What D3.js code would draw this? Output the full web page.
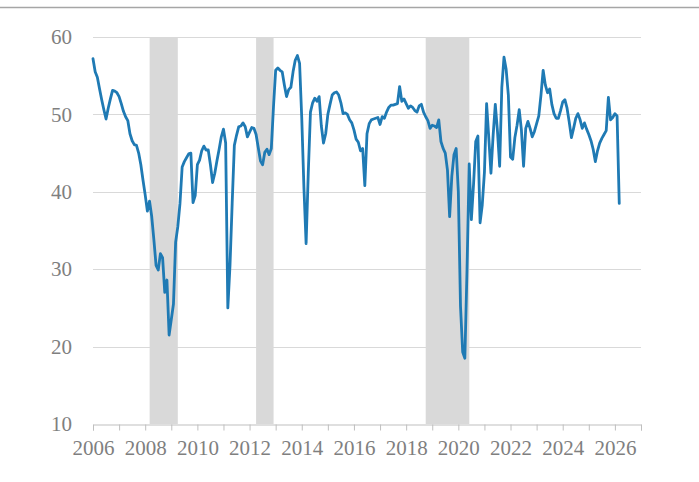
<!DOCTYPE html>
<html>
<head>
<meta charset="utf-8">
<script src="https://cdn.jsdelivr.net/npm/d3@7"></script>
<style>
  html, body { margin: 0; padding: 0; background: #ffffff; }
  svg { display: block; }
</style>
</head>
<body>
<svg id="chart" width="699" height="482"></svg>
<script>
// Monthly diffusion index, Jan 2006 onward
const startYear = 2006;
const values = [
  57.2, 55.5, 54.8, 53.3, 51.9, 50.6, 49.4, 50.8, 52.0, 53.1, 53.0, 52.8,
  52.3, 51.4, 50.4, 49.7, 49.2, 47.5, 46.6, 46.1, 46.0, 45.0, 43.5, 41.5,
  39.6, 37.5, 38.8, 36.8, 33.8, 30.5, 29.9, 32.0, 31.5, 27.0, 28.6, 21.5,
  23.5, 25.5, 33.5, 35.5, 38.5, 43.2, 43.9, 44.4, 44.9, 45.0, 38.6, 39.5,
  43.5, 44.1, 45.3, 45.9, 45.4, 45.4, 43.5, 41.2, 42.4, 44.0, 45.5, 47.1,
  48.1, 46.3, 25.0, 30.5, 38.5, 46.0, 47.3, 48.4, 48.5, 48.9, 48.4, 47.1,
  47.7, 48.3, 48.2, 47.4, 45.7, 44.0, 43.5, 45.1, 45.5, 44.8, 45.6, 51.0,
  55.7, 56.0, 55.7, 55.5, 53.8, 52.3, 53.2, 53.5, 55.5, 57.0, 57.6, 56.6,
  49.5, 40.5, 33.3, 42.5, 50.3, 51.5, 52.1, 51.7, 52.3, 48.5, 46.3, 47.5,
  50.0, 51.3, 52.5, 52.8, 52.9, 52.5, 51.5, 50.1, 50.2, 50.0, 49.3, 48.9,
  48.0, 46.8, 46.4, 45.3, 45.6, 40.8, 47.5, 48.8, 49.3, 49.4, 49.5, 49.6,
  48.7, 49.7, 49.5, 50.3, 50.9, 51.2, 51.2, 51.3, 51.4, 53.6, 51.7, 52.0,
  51.4, 50.8, 51.1, 50.9, 50.5, 50.3, 51.1, 51.3, 50.3, 49.7, 49.2, 48.2,
  48.6, 48.5, 48.3, 49.3, 46.5, 45.6, 45.0, 42.8, 36.8, 42.0, 44.8, 45.6,
  40.0, 25.2, 19.3, 18.5, 30.0, 43.6, 36.4, 41.0, 46.5, 47.2, 36.0, 38.3,
  42.5, 51.4, 47.0, 42.4, 47.3, 51.3, 47.8, 43.3, 53.5, 57.4, 55.8, 52.5,
  44.5, 44.2, 47.0, 48.6, 50.6, 48.0, 43.3, 48.2, 49.1, 48.2, 47.1, 47.8,
  48.8, 49.8, 52.5, 55.7, 53.8, 52.8, 53.3, 51.3, 50.1, 49.5, 49.5, 50.5,
  51.6, 51.9, 50.8, 49.0, 47.0, 48.2, 49.5, 50.1, 49.3, 48.2, 48.9, 48.1,
  47.4, 46.6, 45.5, 43.9, 45.3, 46.3, 46.9, 47.4, 47.9, 52.2, 49.3, 49.6,
  50.1, 49.8, 38.5
];

// Recession periods (fractional years)
const recessionStart = [2008.17, 2012.25, 2018.75];
const recessionEnd   = [2009.25, 2012.92, 2020.42];

// Axis ticks
const yTicks = [10, 20, 30, 40, 50, 60];
const xTicks = d3.range(2006, 2028, 1);
const xLabels = [2006, 2008, 2010, 2012, 2014, 2016, 2018, 2020, 2022, 2024, 2026];

const series = values.map((v, i) => ({ t: startYear + i / 12, v }));
const recessions = recessionStart.map((s, i) => ({ s, e: recessionEnd[i] }));

const W = 699, H = 482;
const margin = { top: 37, right: 58, bottom: 58, left: 93 };
const svg = d3.select("#chart");

const x = d3.scaleLinear().domain([2006, 2027]).range([margin.left, W - margin.right]);
const y = d3.scaleLinear().domain([10, 60]).range([H - margin.bottom, margin.top]);

const font = "'Liberation Serif', 'Times New Roman', serif";
const textColor = "#7f7f7f";

// frame line across the top
svg.append("line")
  .attr("x1", 0).attr("x2", W)
  .attr("y1", 7.5).attr("y2", 7.5)
  .attr("stroke", "#a6a6a6").attr("stroke-width", 1.5);

// recession shading
svg.append("g").selectAll("rect")
  .data(recessions)
  .join("rect")
  .attr("x", d => x(d.s))
  .attr("width", d => x(d.e) - x(d.s))
  .attr("y", y(60))
  .attr("height", y(10) - y(60))
  .attr("fill", "#d9d9d9");

// horizontal gridlines
svg.append("g").selectAll("line")
  .data(yTicks.filter(d => d > 10))
  .join("line")
  .attr("x1", x(2006)).attr("x2", x(2027))
  .attr("y1", d => Math.round(y(d)) + 0.5).attr("y2", d => Math.round(y(d)) + 0.5)
  .attr("stroke", "#d9d9d9").attr("stroke-width", 1);

// y axis labels
const yAxis = svg.append("g")
  .attr("transform", `translate(${margin.left},0)`)
  .call(d3.axisLeft(y).tickValues(yTicks).tickSize(0).tickPadding(21));
yAxis.select(".domain").remove();
yAxis.selectAll("text")
  .attr("font-family", font).attr("font-size", 21).attr("fill", textColor);

// x axis
const xAxis = svg.append("g")
  .attr("transform", `translate(0,${Math.round(y(10)) + 0.5})`)
  .call(d3.axisBottom(x).tickValues(xTicks).tickSize(6).tickPadding(10)
    .tickFormat(d => xLabels.includes(d) ? String(d) : ""));
xAxis.select(".domain").attr("stroke", "#bfbfbf");
xAxis.selectAll(".tick line").attr("stroke", "#bfbfbf");
xAxis.selectAll("text")
  .attr("font-family", font).attr("font-size", 21).attr("fill", textColor);

// index line
const line = d3.line().x(d => x(d.t)).y(d => y(d.v));
svg.append("path")
  .datum(series)
  .attr("d", line)
  .attr("fill", "none")
  .attr("stroke", "#1f7ab4")
  .attr("stroke-width", 2.8)
  .attr("stroke-linejoin", "round")
  .attr("stroke-linecap", "round");
</script>
</body>
</html>
